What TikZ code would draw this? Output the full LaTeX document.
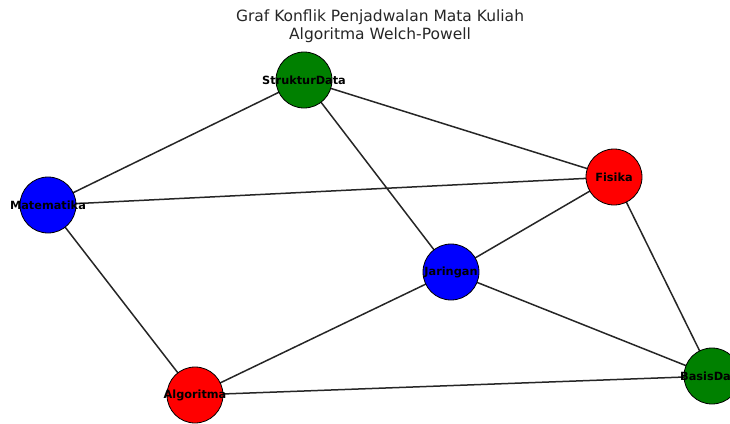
\documentclass[tikz,border=0pt]{standalone}
\usepackage{fontspec}
\setmainfont{DejaVu Sans}
\begin{document}
\begin{tikzpicture}[x=1pt,y=-1pt,
  vtx/.style={circle,draw=black,line width=0.8pt,minimum size=56pt,inner sep=0pt},
  lbl/.style={font=\fontsize{11.3}{11.3}\selectfont\bfseries,inner sep=0pt},
  edge/.style={line width=1.5pt,draw=black!85}]
\useasboundingbox (0,0) rectangle (730,423);
\clip (0,0) rectangle (730,423);
\coordinate (cS) at (304,80);
\coordinate (cF) at (614,177);
\coordinate (cM) at (48,205);
\coordinate (cJ) at (451,272);
\coordinate (cA) at (195,395);
\coordinate (cB) at (712,376);
\draw[edge] (cS) -- (cM) (cS) -- (cF) (cS) -- (cJ) (cM) -- (cF) (cM) -- (cA)
  (cF) -- (cJ) (cF) -- (cB) (cJ) -- (cA) (cJ) -- (cB) (cA) -- (cB);
\node[vtx,fill=green!50!black] (S) at (cS) {};
\node[vtx,fill=red] (F) at (cF) {};
\node[vtx,fill=blue] (M) at (cM) {};
\node[vtx,fill=blue] (J) at (cJ) {};
\node[vtx,fill=red] (A) at (cA) {};
\node[vtx,fill=green!50!black] (B) at (cB) {};
\node[lbl] (tS) at (cS) {StrukturData};
\node[lbl] (tF) at (cF) {Fisika};
\node[lbl] (tM) at (cM) {Matematika};
\node[lbl] (tJ) at (cJ) {Jaringan};
\node[lbl] (tA) at (cA) {Algoritma};
\node[lbl] (tB) at (cB) {BasisData};
\node[align=center,font=\fontsize{15.5}{18}\selectfont,inner sep=0pt,text=black!85] (title) at (380,26) {Graf Konflik Penjadwalan Mata Kuliah\\Algoritma Welch-Powell};
\end{tikzpicture}
\end{document}
